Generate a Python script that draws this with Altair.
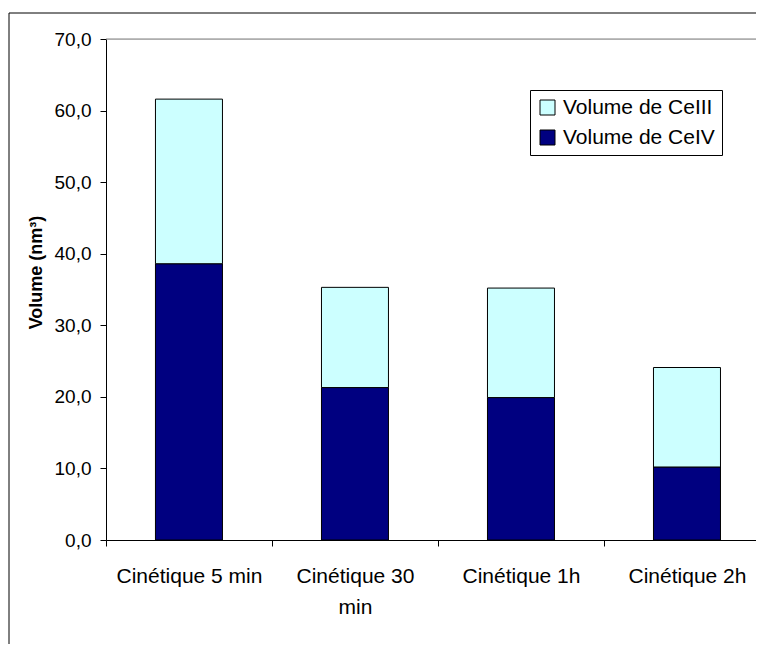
import altair as alt
import pandas as pd

categories = ["Cinétique 5 min", "Cinétique 30 min", "Cinétique 1h", "Cinétique 2h"]
ce_iv = [38.6, 21.3, 19.9, 10.2]
ce_iii = [23.0, 14.0, 15.3, 13.9]
series = ["Volume de CeIII", "Volume de CeIV"]
colors = ["#CCFFFF", "#000080"]
y_ticks = [0, 10, 20, 30, 40, 50, 60, 70]

rows = []
for c, v4, v3 in zip(categories, ce_iv, ce_iii):
    rows.append({"cat": c, "serie": series[1], "val": v4, "ord": 0})
    rows.append({"cat": c, "serie": series[0], "val": v3, "ord": 1})
df = pd.DataFrame(rows)

W, H = 650, 501
FONT = "Liberation Sans"

x_enc = alt.X(
    "cat:N",
    sort=categories,
    scale=alt.Scale(paddingInner=0.5964, paddingOuter=0.256, align=0.582),
    axis=alt.Axis(
        title=None, labelAngle=0, tickSize=6, labelPadding=19,
        labelFontSize=21, labelFont=FONT, labelColor="black",
        labelLineHeight=31, tickOffset=-83, labelOffset=83,
        labelOverlap=False, labelBound=False, labelLimit=400,
        domainColor="black", tickColor="black",
        labelExpr="length(datum.label) > 15 ? [slice(datum.label, 0, lastindexof(datum.label, ' ')), slice(datum.label, lastindexof(datum.label, ' ') + 1)] : datum.label",
    ),
)

y_scale = alt.Scale(domain=[0, 70], nice=False)
y_axis = alt.Axis(
    values=y_ticks, grid=False, tickSize=6, labelPadding=9,
    labelFontSize=19, labelFont=FONT, labelColor="black",
    domainColor="black", tickColor="black",
    labelExpr="replace(format(datum.value, '.1f'), '.', ',')",
    title="Volume (nm³)", titleFont=FONT, titleFontSize=18, titleFontWeight="bold",
    titleColor="black", titleAngle=-90, titleX=-65, titleY=233,
    titleAlign="center", titleBaseline="alphabetic",
)

bars = alt.Chart(df).mark_bar(stroke="black", strokeWidth=1).encode(
    x=x_enc,
    y=alt.Y("val:Q", stack="zero", scale=y_scale, axis=y_axis),
    color=alt.Color(
        "serie:N",
        scale=alt.Scale(domain=series, range=colors),
        legend=alt.Legend(
            title=None, orient="none", legendX=424, legendY=51,
            symbolType="square", symbolSize=225, symbolStrokeColor="black",
            symbolStrokeWidth=1, symbolOpacity=1, labelFontSize=21, labelFont=FONT,
            labelColor="black", labelOffset=5, padding=7, rowPadding=8,
            strokeColor="black", fillColor="white", cornerRadius=0,
            labelLimit=400,
        ),
    ),
    order=alt.Order("ord:Q"),
)

top_line = alt.Chart(pd.DataFrame({"v": [70]})).mark_rule(color="#808080", strokeWidth=1).encode(
    y=alt.Y("v:Q", scale=y_scale)
)

frame_top = alt.Chart(pd.DataFrame({"a": [0]})).mark_rule(color="black", strokeWidth=1).encode(
    x=alt.value(-97), x2=alt.value(W + 50), y=alt.value(-26)
)
frame_left = alt.Chart(pd.DataFrame({"a": [0]})).mark_rule(color="black", strokeWidth=1).encode(
    x=alt.value(-97), y=alt.value(-26), y2=alt.value(H + 150)
)

chart = alt.layer(top_line, bars, frame_top, frame_left).properties(
    width=W, height=H,
    autosize=alt.AutoSizeParams(type="none"),
    padding={"left": 98, "top": 31, "right": 0, "bottom": 104},
).configure_view(stroke=None).configure(background="white")

chart.save("out.html", embed_options={"renderer": "svg", "actions": False})
